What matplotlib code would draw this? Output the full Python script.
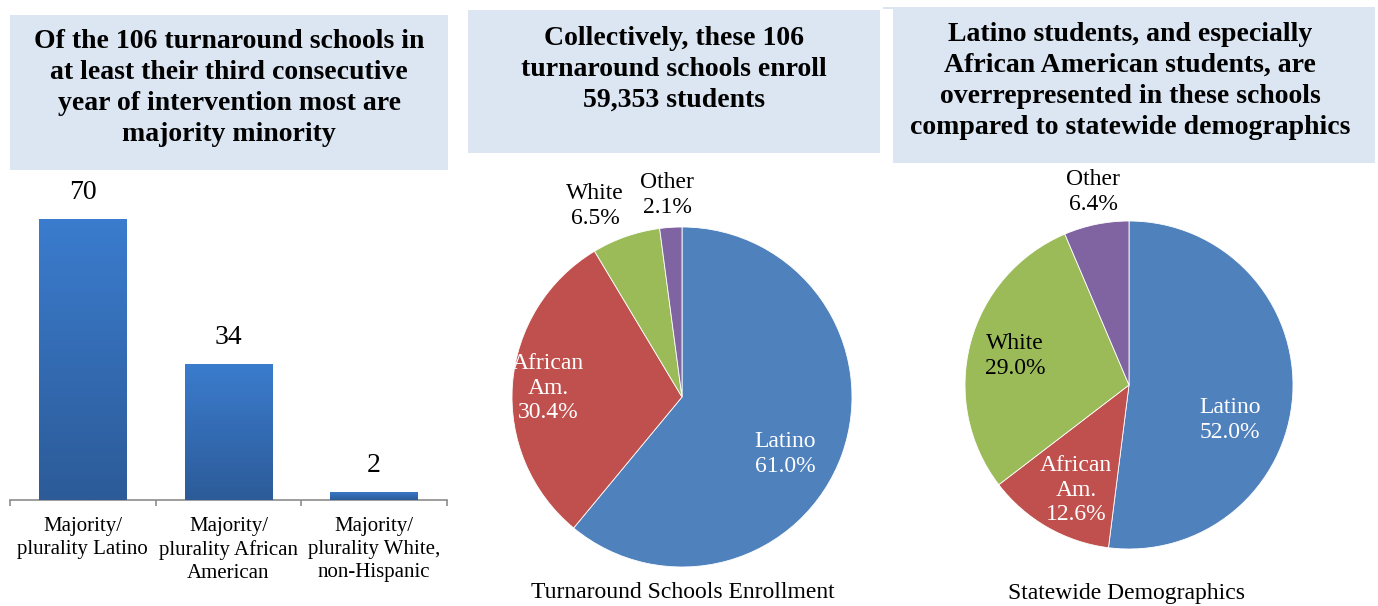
import numpy as np
import matplotlib
matplotlib.use("Agg")
import matplotlib.pyplot as plt
from matplotlib.patches import Rectangle
from matplotlib.colors import LinearSegmentedColormap

# ---------------- data ----------------
bar_categories = ["Majority/\nplurality Latino",
                  "Majority/\nplurality African\nAmerican",
                  "Majority/\nplurality White,\nnon-Hispanic"]
bar_values = [70, 34, 2]

pie_groups = ["Latino", "African\nAm.", "White", "Other"]
turnaround_pct = [61.0, 30.4, 6.5, 2.1]
statewide_pct = [52.0, 12.6, 29.0, 6.4]

title_bar = "Of the 106 turnaround schools in\nat least their third consecutive\nyear of intervention most are\nmajority minority"
title_pie1 = "Collectively, these 106\nturnaround schools enroll\n59,353 students"
title_pie2 = "Latino students, and especially\nAfrican American students, are\noverrepresented in these schools\ncompared to statewide demographics"
caption_pie1 = "Turnaround Schools Enrollment"
caption_pie2 = "Statewide Demographics"

# ---------------- style ----------------
W, H = 1378, 606
plt.rcParams['font.family'] = ['Liberation Serif', 'DejaVu Serif']
pie_colors = ['#4F81BD', '#C0504D', '#9BBB59', '#8064A2']
box_color = '#DCE6F2'

fig = plt.figure(figsize=(W / 100, H / 100), dpi=100)


def fx(x):
    return x / W


def fy(y):
    return 1 - y / H


def box(x0, y0, x1, y1):
    fig.patches.append(Rectangle((fx(x0), fy(y1)), (x1 - x0) / W, (y1 - y0) / H,
                                 transform=fig.transFigure, facecolor=box_color,
                                 edgecolor='none', zorder=0))


def ftext(x, y, s, **kw):
    fig.text(fx(x), fy(y), s, ha='center', va='center', **kw)


# title boxes
box(10, 15, 448, 170)
box(468, 10, 880, 153)
box(893, 7, 1375, 163)
box(883, 7, 893, 9)

ftext(229, 88, title_bar, fontsize=20, fontweight='bold', linespacing=1.31)
ftext(674, 69, title_pie1, fontsize=20, fontweight='bold', linespacing=1.31)
ftext(1130, 81, title_pie2, fontsize=20, fontweight='bold', linespacing=1.31)

# ---------------- bar chart ----------------
ymax = 80
px_per_unit = 281 / 70
ax_h = ymax * px_per_unit
ax = fig.add_axes([fx(10), fy(500), 437 / W, ax_h / H])
xpos = np.arange(len(bar_values))
bars = ax.bar(xpos, bar_values, width=0.6, color='#3468B0', zorder=2)
cmap = LinearSegmentedColormap.from_list('bargrad', ['#2C5B98', '#3B7CCE'])
grad = np.linspace(0, 1, 256).reshape(-1, 1)
for b in bars:
    x0, y0 = b.get_xy()
    im = ax.imshow(grad, extent=[x0, x0 + b.get_width(), y0, y0 + b.get_height()],
                   aspect='auto', cmap=cmap, origin='lower', zorder=3)
    im.set_clip_path(b)
for i, v in enumerate(bar_values):
    ax.annotate(str(v), xy=(i, v), xytext=(0, 19), textcoords='offset points',
                ha='center', va='center', fontsize=20)
ax.set_xlim(-0.5, len(bar_values) - 0.5)
ax.set_ylim(0, ymax)
ax.set_xticks(xpos)
ax.set_xticklabels(bar_categories, fontsize=15, linespacing=1.3)
ax.set_xticks(np.arange(len(bar_values) + 1) - 0.5, minor=True)
ax.tick_params(axis='x', which='major', length=0, pad=12)
ax.tick_params(axis='x', which='minor', length=4, width=1.2, color='#8C8C8C', direction='out')
ax.set_yticks([])
for s in ['top', 'right', 'left']:
    ax.spines[s].set_visible(False)
ax.spines['bottom'].set_color('#8C8C8C')
ax.spines['bottom'].set_linewidth(1.2)
ax.set_facecolor('none')

# ---------------- pies ----------------
def pie_axes(cx, cy, r, values):
    lim = 1.02
    size = 2 * lim * r
    a = fig.add_axes([fx(cx - size / 2), fy(cy + size / 2), size / W, size / H])
    a.pie(values, colors=pie_colors, startangle=90, counterclock=False,
          wedgeprops=dict(edgecolor='white', linewidth=0.6))
    a.set_xlim(-lim, lim)
    a.set_ylim(-lim, lim)
    a.set_aspect('equal')
    a.axis('off')
    return a


pie_axes(682, 397, 170, turnaround_pct)
pie_axes(1129, 385, 164, statewide_pct)

lab_fs = 17


def label(x, y, name, pct, color, ls=1.3):
    ftext(x, y, f"{name}\n{pct:.1f}%", fontsize=lab_fs, color=color, linespacing=ls)


label(785, 454, pie_groups[0], turnaround_pct[0], 'white')
label(548, 388, pie_groups[1], turnaround_pct[1], 'white', 1.2)
label(595, 206, pie_groups[2], turnaround_pct[2], 'black')
label(667, 195, pie_groups[3], turnaround_pct[3], 'black')

label(1230, 420, pie_groups[0], statewide_pct[0], 'white')
label(1076, 490, pie_groups[1], statewide_pct[1], 'white', 1.2)
label(1015, 356, pie_groups[2], statewide_pct[2], 'black')
label(1093, 192, pie_groups[3], statewide_pct[3], 'black')

ftext(683, 593, caption_pie1, fontsize=17)
ftext(1127, 594, caption_pie2, fontsize=17)

fig.savefig('out.png', dpi=100)
